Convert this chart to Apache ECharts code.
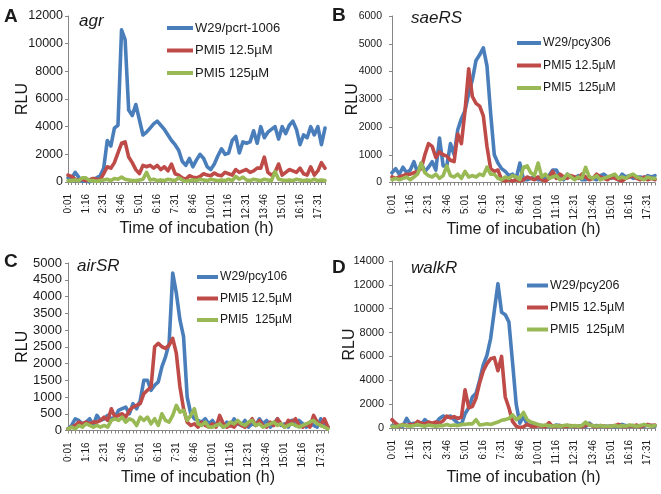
<!DOCTYPE html>
<html><head><meta charset="utf-8">
<script src="https://cdn.jsdelivr.net/npm/echarts@6/dist/echarts.min.js"></script>
<style>html,body{margin:0;padding:0;background:#fff}#c{width:661px;height:494px}</style>
</head><body><div id="c"></div>
<script>
const categories = ["0:01","0:16","0:31","0:46","1:01","1:16","1:31","1:46","2:01","2:16","2:31","2:46","3:01","3:16","3:31","3:46","4:01","4:16","4:31","4:46","5:01","5:16","5:31","5:46","6:01","6:16","6:31","6:46","7:01","7:16","7:31","7:46","8:01","8:16","8:31","8:46","9:01","9:16","9:31","9:46","10:01","10:16","10:31","10:46","11:01","11:16","11:31","11:46","12:01","12:16","12:31","12:46","13:01","13:16","13:31","13:46","14:01","14:16","14:31","14:46","15:01","15:16","15:31","15:46","16:01","16:16","16:31","16:46","17:01","17:16","17:31","17:46","18:01"];

const panelLetters = ["A","B","C","D"];
const panelGenes = ["agr","saeRS","airSR","walkR"];
const yMax = [12000, 6000, 5000, 14000];
const yStep = [2000, 1000, 500, 2000];
const xAxisName = "Time of incubation (h)";
const yAxisName = "RLU";

const namesA = ["W29/pcrt-1006","PMI5 12.5µM","PMI5 125µM"];
const namesB = ["W29/pcy306","PMI5 12.5µM","PMI5  125µM"];
const namesC = ["W29/pcy106","PMI5 12.5µM","PMI5  125µM"];
const namesD = ["W29/pcy206","PMI5 12.5µM","PMI5  125µM"];

const agrControl = [300,250,700,350,50,100,0,200,300,450,1000,3000,2600,3900,4100,11000,10300,5200,4800,5600,4500,3400,3600,3900,4200,4400,4100,3800,3400,3000,2700,2300,1500,1200,1700,1100,1600,2000,1700,1100,900,1300,1900,2400,2000,2100,3000,3300,2100,2900,2800,2900,3700,2800,4000,3200,3600,3800,4000,3100,4000,3500,4100,4400,3800,2700,3400,3200,4000,3400,4000,2700,3900];
const agrLow = [500,400,200,150,200,100,150,250,200,150,600,1100,1000,1400,2100,2800,2900,1800,1400,900,600,1200,1100,1200,1000,1200,900,1100,800,1300,600,500,300,200,450,350,300,400,600,500,450,650,500,450,700,600,500,900,700,800,900,700,800,1000,1000,1800,700,500,700,1300,500,700,900,800,700,1000,600,500,1100,500,800,1400,1000];
const agrHigh = [100,100,150,100,300,300,100,100,50,100,150,200,100,250,200,350,200,150,100,100,150,200,700,150,200,100,150,100,200,150,100,300,150,50,100,150,100,200,150,100,200,150,100,150,100,200,100,400,200,350,150,100,200,150,100,200,150,100,750,200,150,100,150,100,200,150,100,150,100,200,100,150,100];

const saeControl = [350,500,300,550,350,450,750,350,700,400,550,750,450,1600,600,600,1400,1000,1900,2300,2600,3200,3700,4400,4600,4850,4200,2500,1000,700,500,400,250,300,150,700,100,100,150,200,100,100,200,250,450,450,200,100,300,200,150,250,100,100,200,150,100,250,300,200,150,250,100,300,200,250,150,200,200,150,250,200,250];
const saeLow = [200,150,200,250,300,300,350,400,500,1000,1400,1300,900,1100,1000,950,800,750,1750,1400,2600,4100,3100,2850,2750,2400,1300,500,400,450,100,50,100,50,100,50,100,200,150,100,200,100,50,150,400,150,300,200,150,250,200,150,300,200,100,150,300,200,150,100,200,150,100,50,150,200,250,150,100,200,100,150,100];
const saeHigh = [100,150,100,150,200,100,200,300,700,350,250,200,300,150,250,600,250,200,300,150,400,200,250,200,300,250,550,300,300,150,100,200,150,250,200,100,550,600,350,250,700,200,300,150,200,250,100,150,300,200,100,200,150,550,200,150,250,100,150,200,250,300,150,200,150,250,300,200,150,100,200,150,150];

const airControl = [50,150,350,300,200,250,350,150,450,300,350,450,350,400,600,650,700,500,800,650,900,1500,1500,1200,1350,1450,1900,2200,2600,4700,4100,3300,2800,1000,500,350,300,250,350,200,300,150,200,100,250,150,350,200,150,300,100,200,150,350,200,300,100,200,350,150,200,100,300,150,300,200,100,250,150,100,350,150,100];
const airLow = [50,100,150,250,200,250,200,250,250,300,400,300,650,400,450,500,400,600,700,750,800,1100,1200,1300,2500,2600,2500,2450,2550,2750,2300,1300,650,250,150,200,100,250,150,100,200,100,450,200,100,150,100,250,150,100,200,350,150,300,150,100,250,150,350,200,100,300,250,350,150,100,200,100,450,250,150,350,100];
const airHigh = [50,100,50,150,100,200,150,100,150,100,150,100,300,350,300,400,250,350,300,150,400,300,400,200,350,150,500,300,250,450,750,550,600,300,450,650,200,150,250,100,100,150,200,100,150,250,200,300,200,150,250,300,150,200,100,150,200,250,150,200,100,150,200,150,100,150,200,250,300,200,150,100,50];

const walkControl = [200,150,200,150,800,300,400,250,300,700,400,300,400,800,1000,900,1000,700,400,300,1200,1700,2600,2900,4000,5300,6100,7500,9800,12100,9700,9500,8900,5500,2000,400,1000,300,200,150,250,200,150,200,150,250,200,150,200,150,100,150,200,100,400,150,200,150,150,150,150,100,150,300,200,150,200,150,200,150,250,200,150];
const walkLow = [700,400,150,300,200,300,250,550,400,350,500,400,500,400,600,1000,850,950,800,900,3200,1700,1800,2500,3800,4800,5400,5800,5900,4800,6000,2600,1700,550,150,50,100,300,150,100,200,150,100,450,100,150,200,100,150,200,100,150,100,200,300,150,100,200,150,100,150,200,300,150,100,200,150,250,100,200,300,200,250];
const walkHigh = [150,100,200,250,200,150,200,300,200,150,250,200,150,200,200,300,200,250,200,300,300,350,350,700,250,300,350,300,400,500,650,700,800,1100,700,900,1300,700,500,400,300,200,250,200,150,200,150,200,250,150,200,150,200,500,250,200,150,200,150,150,150,200,150,200,150,250,200,150,200,300,200,150,200];

const panelNames = [namesA, namesB, namesC, namesD];
const panelData = [[agrControl, agrLow, agrHigh],[saeControl, saeLow, saeHigh],[airControl, airLow, airHigh],[walkControl, walkLow, walkHigh]];

// layout (pixels)
const grids = [
  {left:68, top:16, width:257, height:166},
  {left:392, top:16, width:263, height:166.5},
  {left:68, top:263, width:260, height:167.5},
  {left:392, top:261, width:263, height:167}
];
const yLabelFont = [12.5, 10.5, 13, 11];
const yLabelMargin = [5, 10, 6, 8];
const yNameGap = [37.5, 31, 37.5, 34];
const xNameGap = [39, 39, 39, 42];
const legendPos = [{left:167, top:21.5},{left:517, top:37},{left:197, top:271},{left:527, top:279}];
const legendGap = [9.5, 10.5, 9.5, 9];
const legendFont = [13, 12.2, 12.1, 12.5];
const legendLine = [26, 24, 21, 21];
const letterPos = [{left:4, top:7},{left:332, top:6},{left:4, top:252},{left:332, top:258}];
const genePos = [{left:79, top:13},{left:411, top:10},{left:77, top:258},{left:411, top:260}];
const colors = ["#4a7ebb", "#be4b48", "#98b954"];
const font = "Liberation Sans, Arial, sans-serif";
const txt = "#1a1a1a";
const axisCol = "#868686";

const option = {
  animation: false,
  backgroundColor: "#fff",
  textStyle: {fontFamily: font},
  title: [],
  grid: grids.map(g => Object.assign({containLabel:false}, g)),
  xAxis: [], yAxis: [], legend: [], series: []
};

for (let p = 0; p < 4; p++) {
  option.title.push({text: panelLetters[p], left: letterPos[p].left, top: letterPos[p].top, padding: 0,
    textStyle: {fontFamily: font, fontSize: 19, fontWeight: "bold", color: txt}});
  option.title.push({text: panelGenes[p], left: genePos[p].left, top: genePos[p].top, padding: 0,
    textStyle: {fontFamily: font, fontSize: 17, fontStyle: "italic", fontWeight: "normal", color: txt}});
  option.xAxis.push({
    type: "category", gridIndex: p, data: categories, boundaryGap: false,
    name: xAxisName, nameLocation: "middle", nameGap: xNameGap[p], nameMoveOverlap: false,
    nameTextStyle: {fontFamily: font, fontSize: 16, color: txt},
    axisLine: {lineStyle: {color: axisCol, width: 1}},
    axisTick: {show: true, interval: 0, length: 3, lineStyle: {color: axisCol}},
    axisLabel: {interval: 4, rotate: 90, fontSize: 10, margin: 12, color: txt, fontFamily: font},
    splitLine: {show: false}
  });
  option.yAxis.push({
    type: "value", gridIndex: p, min: 0, max: yMax[p], interval: yStep[p],
    name: yAxisName, nameLocation: "middle", nameGap: yNameGap[p], nameRotate: 90, nameMoveOverlap: false,
    nameTextStyle: {fontFamily: font, fontSize: 16, color: txt},
    axisLine: {show: true, lineStyle: {color: axisCol, width: 1}},
    axisTick: {show: true, length: 3, lineStyle: {color: axisCol}},
    axisLabel: {fontSize: yLabelFont[p], margin: yLabelMargin[p], color: txt, fontFamily: font, formatter: v => String(v)},
    splitLine: {show: false}
  });
  option.legend.push({
    orient: "vertical", left: legendPos[p].left, top: legendPos[p].top,
    data: panelNames[p].map((n, k) => ({name: n, itemStyle: {color: colors[k]}})),
    icon: "rect", itemWidth: legendLine[p], itemHeight: 4, itemGap: legendGap[p], padding: 0,
    selectedMode: false,
    textStyle: {fontFamily: font, fontSize: legendFont[p], color: txt, padding: [0,0,0,-3]}
  });
  for (let s = 0; s < 3; s++) {
    option.series.push({
      type: "line", name: panelNames[p][s], xAxisIndex: p, yAxisIndex: p,
      data: panelData[p][s], showSymbol: false, symbol: "none",
      lineStyle: {color: colors[s], width: 3.6, join: "round", cap: "round"},
      itemStyle: {color: colors[s]},
      z: 10 + s
    });
  }
}

const chart = echarts.init(document.getElementById("c"), null, {renderer: "canvas"});
chart.setOption(option);
</script>
</body></html>
